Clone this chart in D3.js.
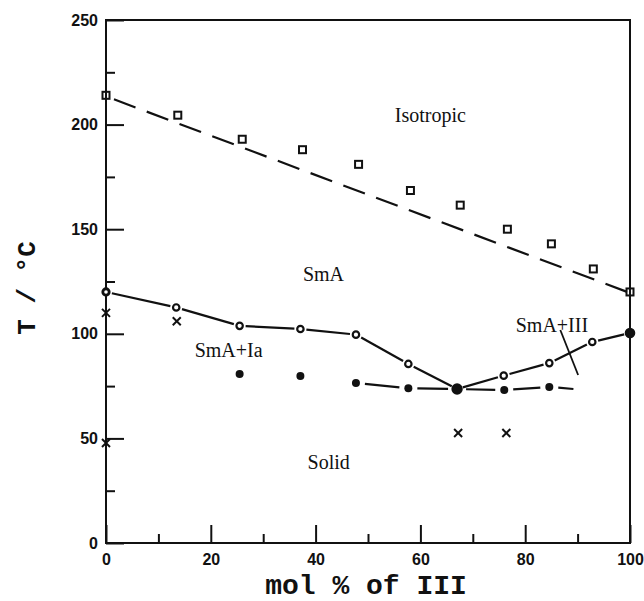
<!DOCTYPE html>
<html>
<head>
<meta charset="utf-8">
<script src="https://cdn.jsdelivr.net/npm/d3@7"></script>
<style>
  html, body { margin: 0; padding: 0; background: #fff; }
  svg { display: block; }
</style>
</head>
<body>
<svg id="chart" width="644" height="601"></svg>
<script>
// Phase diagram of the binary mixture: transition temperatures vs. composition.

// Clearing points (SmA -> Isotropic), open squares
const isoX = [0, 13.7, 26, 37.5, 48.2, 58.1, 67.6, 76.6, 85, 93, 100];
const isoT = [214, 204.5, 193, 188, 181, 168.5, 161.5, 150, 143, 131, 120];

// Linear trend of the clearing line (dashed)
const isoFitX = [0, 100];
const isoFitT = [213.5, 119.5];

// Upper boundary of the two-phase regions (SmA liquidus), circles
const smaX = [0, 13.4, 25.5, 37.1, 47.7, 57.7, 67, 75.9, 84.6, 92.8, 100];
const smaT = [120, 112.6, 103.8, 102.3, 99.6, 85.6, 73.6, 80, 86, 96.1, 100.4];

// Solidus / eutectic points, filled dots
const solidX = [25.5, 37.1, 47.7, 57.7, 67, 76, 84.6];
const solidT = [80.8, 79.8, 76.5, 74, 73.6, 73.1, 74.6];

// Eutectic line (dashed) and its end
const eutX = [47.7, 57.7, 67, 76, 84.6, 89.2];
const eutT = [76.5, 74, 73.6, 73.1, 74.6, 73.6];

// Other observed transitions, crosses
const crossX = [0, 13.5, 0, 67.2, 76.4];
const crossT = [110, 106, 47.8, 52.6, 52.6];

// Axis ticks
const xTickLabels = [0, 20, 40, 60, 80, 100];
const xMinorTicks = [10, 30, 50, 70, 90];
const yTickLabels = [0, 50, 100, 150, 200, 250];
const yMinorTicks = [25, 75, 125, 175, 225];

// Region labels
const regionNames = ["Isotropic", "SmA", "SmA+Ia", "Solid", "SmA+III"];
const regionX = [61.9, 41.5, 23.4, 42.5, 85.1];
const regionT = [204.6, 128.6, 92.3, 38.7, 104.2];

// Leader from "SmA+III" across the liquidus
const leaderX = [86.7, 90.1];
const leaderT = [101.8, 80.3];

const svg = d3.select("#chart");
const plotLeft = 106, plotRight = 630, plotTop = 20, plotBottom = 543;

const x = d3.scaleLinear().domain([0, 100]).range([plotLeft, plotRight]);
const y = d3.scaleLinear().domain([0, 250]).range([plotBottom, plotTop]);

svg.append("rect").attr("width", 644).attr("height", 601).attr("fill", "#fff");

const ink = "#111";

// Frame
svg.append("rect")
  .attr("x", plotLeft).attr("y", plotTop)
  .attr("width", plotRight - plotLeft).attr("height", plotBottom - plotTop)
  .attr("fill", "none").attr("stroke", ink).attr("stroke-width", 2);

// Bottom axis: inward ticks
const xAxis = d3.axisBottom(x).tickValues(xTickLabels).tickSize(-18).tickPadding(11)
  .tickFormat(d3.format("d"));
const gx = svg.append("g").attr("transform", `translate(0,${plotBottom})`).call(xAxis);
gx.select(".domain").remove();
gx.selectAll(".tick line").attr("stroke", ink).attr("stroke-width", 2);
gx.selectAll(".tick text")
  .attr("fill", ink)
  .style("font-family", "'Liberation Sans', Arial, sans-serif")
  .style("font-weight", "bold").style("font-size", "16px");

const gxm = svg.append("g").attr("transform", `translate(0,${plotBottom})`)
  .call(d3.axisBottom(x).tickValues(xMinorTicks).tickSize(-9).tickFormat(""));
gxm.select(".domain").remove();
gxm.selectAll(".tick line").attr("stroke", ink).attr("stroke-width", 2);

// Left axis: inward ticks
const yAxis = d3.axisLeft(y).tickValues(yTickLabels).tickSize(-18).tickPadding(8)
  .tickFormat(d3.format("d"));
const gy = svg.append("g").attr("transform", `translate(${plotLeft},0)`).call(yAxis);
gy.select(".domain").remove();
gy.selectAll(".tick line").attr("stroke", ink).attr("stroke-width", 2);
gy.selectAll(".tick text")
  .attr("fill", ink)
  .style("font-family", "'Liberation Sans', Arial, sans-serif")
  .style("font-weight", "bold").style("font-size", "16px");

const gym = svg.append("g").attr("transform", `translate(${plotLeft},0)`)
  .call(d3.axisLeft(y).tickValues(yMinorTicks).tickSize(-9).tickFormat(""));
gym.select(".domain").remove();
gym.selectAll(".tick line").attr("stroke", ink).attr("stroke-width", 2);

// Axis titles
const titleFont = "'Liberation Mono', 'DejaVu Sans Mono', monospace";
svg.append("text")
  .attr("x", 366).attr("y", 594)
  .attr("text-anchor", "middle")
  .style("font-family", titleFont).style("font-size", "28px").style("font-weight", "bold")
  .attr("fill", ink)
  .text("mol % of III");

svg.append("text")
  .attr("transform", "translate(35,288) rotate(-90)")
  .attr("text-anchor", "middle")
  .style("font-family", titleFont).style("font-size", "26px").style("font-weight", "bold")
  .attr("fill", ink)
  .text("T / °C");

// Draws straight pieces between consecutive points, leaving a gap around each marker
function gappedSegments(xs, ts, gapStart, gapEnd, gapLast) {
  const g = svg.append("g").attr("stroke", ink).attr("stroke-width", 2.2)
    .attr("stroke-linecap", "butt").attr("fill", "none");
  for (let i = 0; i < xs.length - 1; i++) {
    const x0 = x(xs[i]), y0 = y(ts[i]), x1 = x(xs[i + 1]), y1 = y(ts[i + 1]);
    const len = Math.hypot(x1 - x0, y1 - y0);
    const ux = (x1 - x0) / len, uy = (y1 - y0) / len;
    const endGap = (i === xs.length - 2 && gapLast !== undefined) ? gapLast : gapEnd;
    g.append("line")
      .attr("x1", x0 + ux * gapStart).attr("y1", y0 + uy * gapStart)
      .attr("x2", x1 - ux * endGap).attr("y2", y1 - uy * endGap);
  }
}

// Clearing line, long dashes
svg.append("line")
  .attr("x1", x(isoFitX[0])).attr("y1", y(isoFitT[0]))
  .attr("x2", x(isoFitX[1])).attr("y2", y(isoFitT[1]))
  .attr("stroke", ink).attr("stroke-width", 2.2)
  .attr("stroke-dasharray", "23 12").attr("stroke-dashoffset", 26.5);

// Liquidus with gaps at the circles
gappedSegments(smaX, smaT, 6, 6);

// Eutectic line, broken at each dot
gappedSegments(eutX, eutT, 9, 9, 0);

// Leader line for the SmA+III label
svg.append("line")
  .attr("x1", x(leaderX[0])).attr("y1", y(leaderT[0]))
  .attr("x2", x(leaderX[1])).attr("y2", y(leaderT[1]))
  .attr("stroke", ink).attr("stroke-width", 1.8);

// Open squares
svg.append("g").selectAll("rect").data(isoX).join("rect")
  .attr("x", (d) => x(d) - 3.5)
  .attr("y", (d, i) => y(isoT[i]) - 3.5)
  .attr("width", 7).attr("height", 7)
  .attr("fill", "none").attr("stroke", ink).attr("stroke-width", 2);

// Liquidus markers: rings, filled where the branches meet and at the pure component
const tMin = d3.min(smaT);
svg.append("g").selectAll("circle").data(smaX).join("circle")
  .attr("cx", (d) => x(d))
  .attr("cy", (d, i) => y(smaT[i]))
  .attr("r", (d, i) => smaT[i] === tMin ? 4.6 : (i === smaX.length - 1 ? 4.2 : 3.2))
  .attr("fill", (d, i) => (smaT[i] === tMin || i === smaX.length - 1) ? ink : "#fff")
  .attr("stroke", ink)
  .attr("stroke-width", (d, i) => i === 0 ? 2.8 : 2.2);

// Solidus dots
svg.append("g").selectAll("circle").data(solidX).join("circle")
  .attr("cx", (d) => x(d))
  .attr("cy", (d, i) => y(solidT[i]))
  .attr("r", 4)
  .attr("fill", ink);

// Crosses
const crossSize = 4;
const gc = svg.append("g").attr("stroke", ink).attr("stroke-width", 2);
crossX.forEach((d, i) => {
  const cx = x(d), cy = y(crossT[i]);
  gc.append("line").attr("x1", cx - crossSize).attr("y1", cy - crossSize)
    .attr("x2", cx + crossSize).attr("y2", cy + crossSize);
  gc.append("line").attr("x1", cx - crossSize).attr("y1", cy + crossSize)
    .attr("x2", cx + crossSize).attr("y2", cy - crossSize);
});

// Region labels
svg.append("g").selectAll("text").data(regionNames).join("text")
  .attr("x", (d, i) => x(regionX[i]))
  .attr("y", (d, i) => y(regionT[i]))
  .attr("dy", "0.35em")
  .attr("text-anchor", "middle")
  .style("font-family", "'Liberation Serif', 'Times New Roman', serif")
  .style("font-size", "20px")
  .attr("fill", ink)
  .text((d) => d);
</script>
</body>
</html>
